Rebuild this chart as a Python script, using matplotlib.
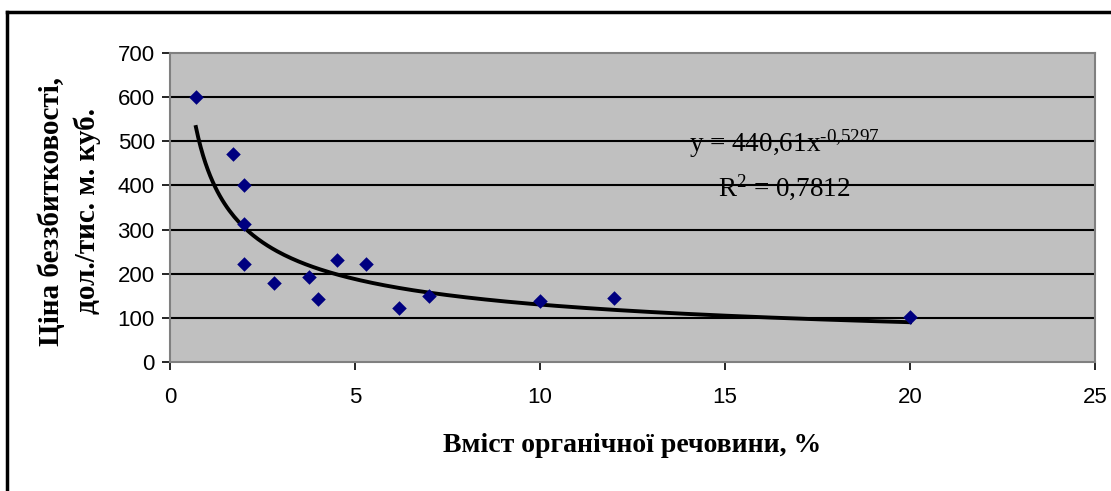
import numpy as np
import matplotlib.pyplot as plt
from matplotlib.lines import Line2D

# measured points
organic = [0.7, 1.7, 2.0, 2.0, 2.0, 2.8, 3.75, 4.0, 4.5, 5.3, 6.2, 7.0, 10.0, 12.0, 20.0]
price = [600, 471, 401, 313, 223, 180, 193, 142, 230, 223, 123, 149, 138, 146, 103]

# power trendline from the chart label
coef_a = 440.61
coef_b = -0.5297
r2 = 0.7812

xticks = [0, 5, 10, 15, 20, 25]
yticks = [0, 100, 200, 300, 400, 500, 600, 700]

plt.rcParams['mathtext.fontset'] = 'custom'
plt.rcParams['mathtext.rm'] = 'Liberation Serif'
plt.rcParams['mathtext.it'] = 'Liberation Serif:italic'

fig = plt.figure(figsize=(11.11, 4.91), dpi=100)
ax = fig.add_axes([170/1111, 1 - 362/491, 925/1111, 309/491])
ax.set_facecolor('#c0c0c0')

for v in yticks[1:-1]:
    ax.axhline(v, color='black', lw=1.5, zorder=1)

xt = np.linspace(min(organic), max(organic), 300)
ax.plot(xt, coef_a * xt**coef_b, color='black', lw=2.8, zorder=2)
ax.scatter(organic, price, marker='D', s=55, color='#000080', zorder=3, linewidths=0)

ax.set_xlim(0, 25)
ax.set_ylim(0, 700)
ax.set_xticks(xticks)
ax.set_yticks(yticks)
for s in ax.spines.values():
    s.set_color('#808080')
    s.set_linewidth(1.5)
ax.tick_params(direction='out', length=6, width=1.2, color='black',
               labelsize=16, pad=5)
ax.tick_params(axis='x', pad=12)
for lab in ax.get_xticklabels() + ax.get_yticklabels():
    lab.set_family('Liberation Sans')

fig.text(632/1111, 1 - 446/491, 'Вміст органічної речовини, %', family='Liberation Serif',
         fontsize=20, fontweight='bold', ha='center', va='center')
fig.text(69/1111, 1 - 211/491, 'Ціна беззбитковості,\nдол./тис. м. куб.', family='Liberation Serif',
         fontsize=21, fontweight='bold', ha='center', va='center', rotation=90,
         linespacing=1.4)

ax.text(16.6, 494, 'y = 440,61x' + r'$^{\text{-0,5297}}$', family='Liberation Serif',
        fontsize=19.5, ha='center', va='center')
ax.text(16.6, 395, 'R' + r'$^{\text{2}}$' + ' = 0,7812', family='Liberation Serif',
        fontsize=19.5, ha='center', va='center')

# outer chart frame (left and top edges visible)
fig.add_artist(Line2D([7/1111, 7/1111], [0, 1 - 12/491], color='black', lw=2.5,
                      transform=fig.transFigure))
fig.add_artist(Line2D([7/1111, 1], [1 - 12/491, 1 - 12/491], color='black', lw=2.5,
                      transform=fig.transFigure))

fig.savefig('out.png', dpi=100)
